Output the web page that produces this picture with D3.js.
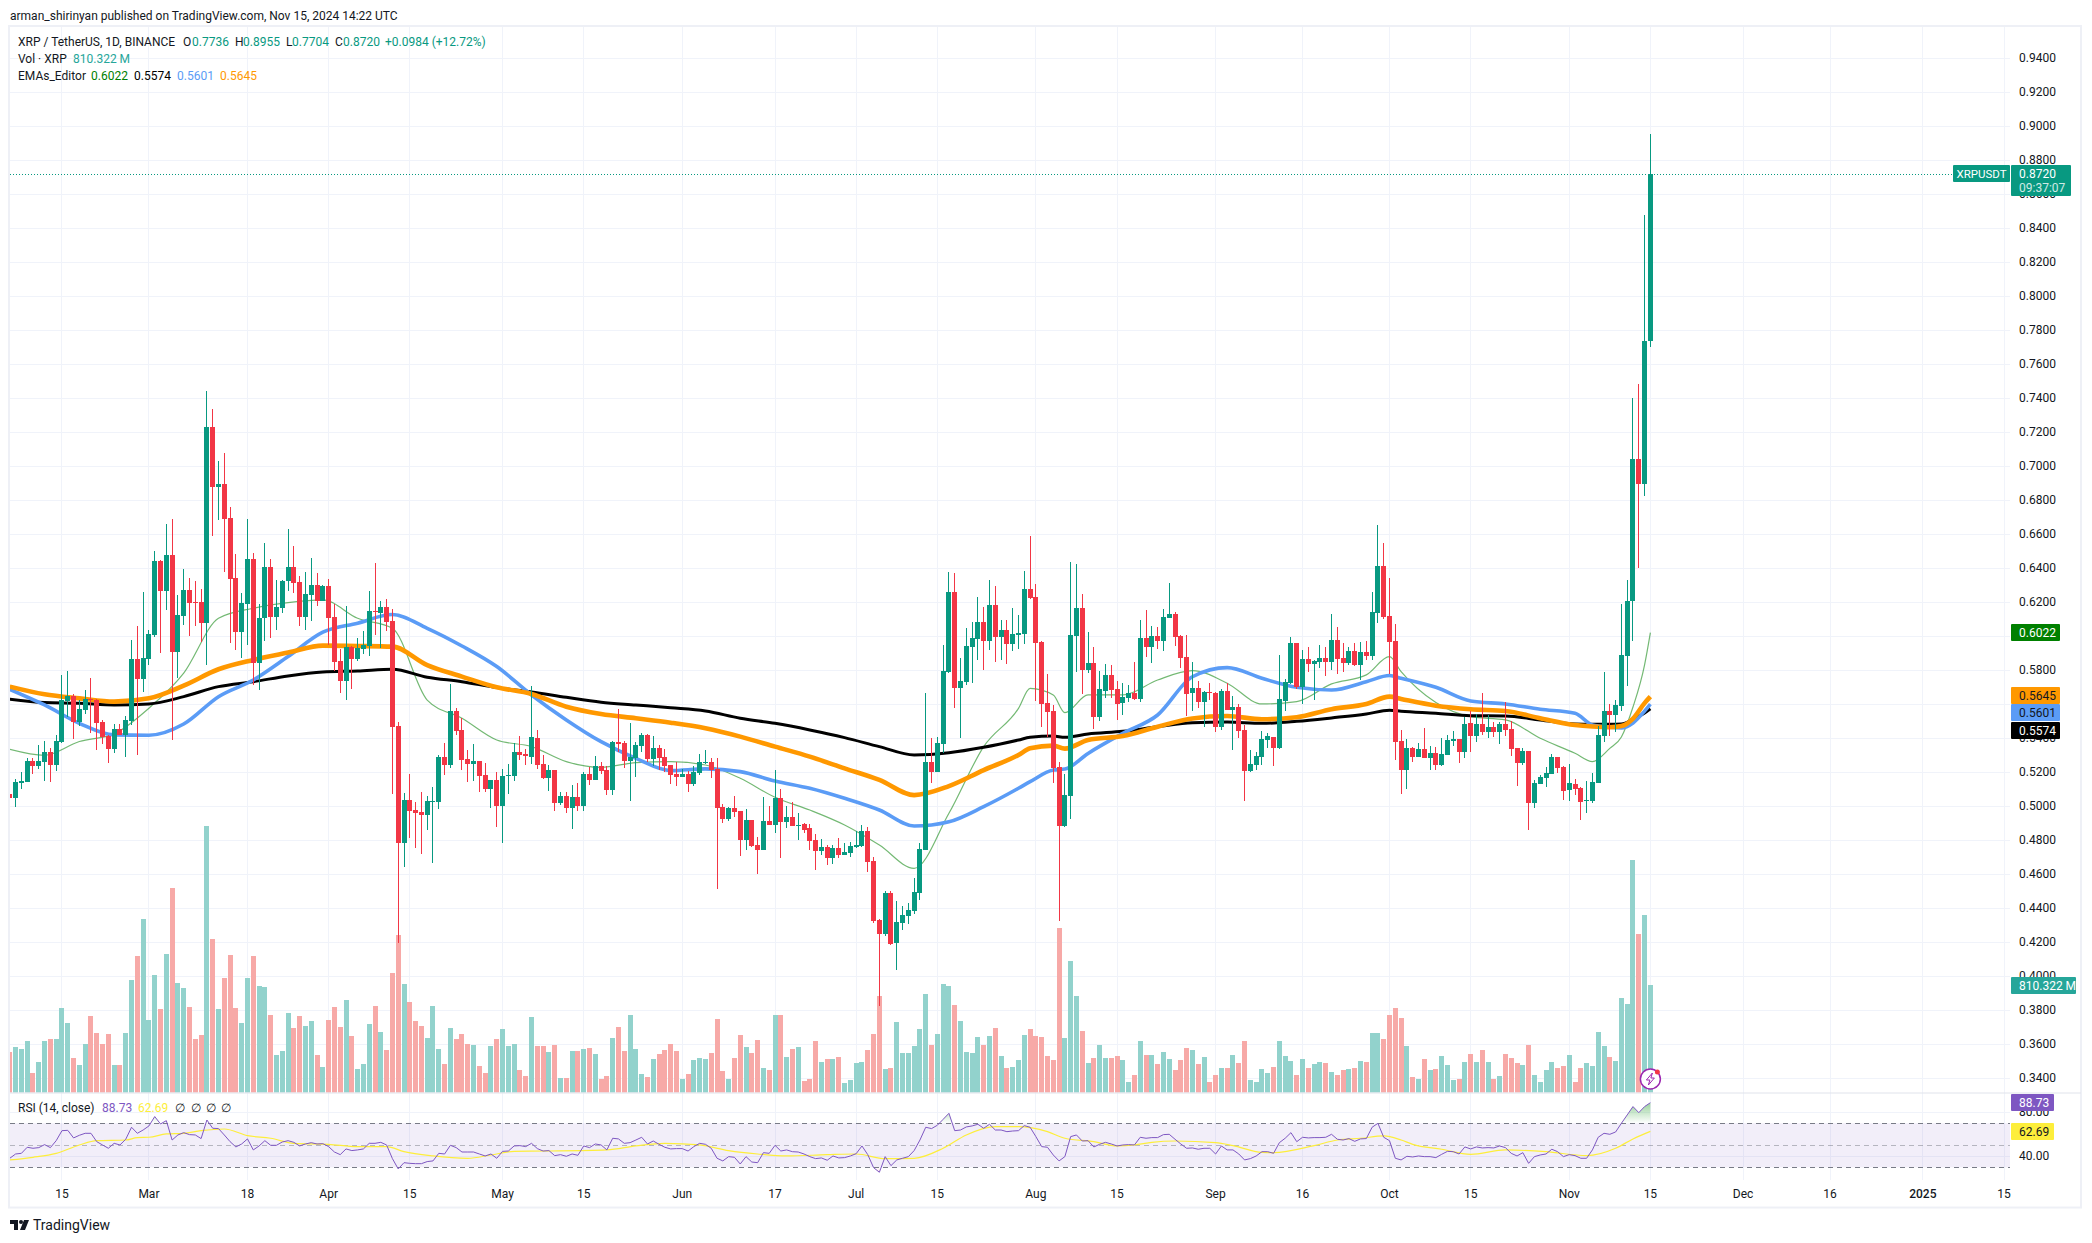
<!DOCTYPE html>
<html>
<head>
<meta charset="utf-8">
<style>
  html, body { margin: 0; padding: 0; background: #fff; }
  svg { display: block; }
  text { font-family: Roboto, sans-serif; font-size: 12px; fill: #131722; }
</style>
</head>
<body>
<div class="chart-container"></div>
<script src="https://cdn.jsdelivr.net/npm/d3@7"></script>
<script>
const UP = '#089981'
const DOWN = '#f23645'
const VOL_UP = '#92d2cc'
const VOL_DOWN = '#f7a9a7'
const GRID = '#f0f3fa'

// daily bars, first one is 2024-02-06
const open = [
  .5071,.5049,.5139,.5143,.5267,.5237,.5261,.5320,.5243,.5379,
  .5620,.5649,.5496,.5567,.5632,.5626,.5496,.5414,.5337,.5455,
  .5420,.5502,.5867,.5749,.5867,.6008,.6443,.6267,.6479,.5908,
  .6120,.6273,.6202,.6202,.6079,.7232,.6879,.6896,.6696,.6343,
  .6026,.6190,.6455,.5843,.6108,.6408,.6114,.6167,.6326,.6408,
  .6320,.6114,.6243,.6302,.6208,.6296,.6114,.5855,.5737,.5937,
  .5867,.5926,.5943,.6149,.6137,.6173,.6090,.5473,.4784,.5037,
  .4978,.4967,.4949,.5025,.5025,.5290,.5243,.5561,.5449,.5278,
  .5249,.5267,.5184,.5102,.5155,.5002,.5178,.5178,.5320,.5308,
  .5290,.5402,.5249,.5167,.5214,.5020,.5061,.4990,.5055,.5002,
  .5190,.5155,.5237,.5214,.5096,.5378,.5373,.5267,.5284,.5355,
  .5420,.5278,.5343,.5290,.5243,.5190,.5173,.5190,.5131,.5196,
  .5255,.5261,.5220,.4996,.4925,.4990,.4973,.4802,.4920,.4773,
  .4743,.4914,.4890,.5049,.4908,.4937,.4884,.4896,.4873,.4802,
  .4737,.4760,.4696,.4755,.4713,.4725,.4760,.4766,.4855,.4678,
  .4331,.4249,.4490,.4196,.4313,.4355,.4384,.4490,.4743,.5260,
  .5202,.5366,.5790,.6260,.5696,.5731,.5937,.5984,.6084,.5972,
  .6184,.5996,.6037,.5955,.6008,.6013,.6278,.6231,.5966,.5608,
  .5560,.5231,.4884,.5060,.6002,.6166,.5802,.5843,.5525,.5678,
  .5772,.5690,.5608,.5637,.5666,.5631,.5990,.5937,.6002,.5972,
  .6108,.6131,.6002,.5878,.5666,.5696,.5614,.5673,.5667,.5467,
  .5678,.5567,.5584,.5449,.5208,.5243,.5290,.5390,.5408,.5343,
  .5620,.5726,.5961,.5702,.5867,.5837,.5849,.5873,.5849,.5978,
  .5873,.5843,.5914,.5831,.5908,.5884,.6137,.6414,.6120,.5973,
  .5384,.5214,.5343,.5290,.5337,.5284,.5314,.5243,.5302,.5384,
  .5396,.5320,.5490,.5414,.5484,.5437,.5467,.5437,.5484,.5455,
  .5343,.5255,.5326,.5020,.5131,.5167,.5190,.5290,.5231,.5096,
  .5131,.5108,.5031,.5031,.5137,.5414,.5561,.5537,.5590,.5885,
  .6207,.7044,.6895,.7736
]
const high = [
  .5075,.5161,.5202,.5283,.5283,.5361,.5384,.5343,.5420,.5773,
  .5796,.5661,.5626,.5684,.5755,.5632,.5508,.5420,.5484,.5484,
  .5532,.5979,.6061,.6261,.6037,.6502,.6449,.6661,.6690,.6243,
  .6396,.6343,.6326,.6279,.7443,.7337,.7032,.7079,.6761,.6484,
  .6255,.6690,.6490,.6190,.6549,.6455,.6332,.6332,.6632,.6532,
  .6355,.6379,.6461,.6373,.6302,.6337,.6190,.5926,.6179,.5943,
  .5990,.6032,.6267,.6432,.6208,.6220,.6161,.5496,.5078,.5190,
  .5025,.5084,.5061,.5114,.5302,.5373,.5720,.5578,.5520,.5331,
  .5367,.5267,.5255,.5155,.5202,.5220,.5249,.5373,.5414,.5337,
  .5708,.5449,.5302,.5243,.5214,.5084,.5084,.5125,.5137,.5202,
  .5231,.5296,.5261,.5237,.5384,.5573,.5384,.5490,.5378,.5431,
  .5425,.5414,.5361,.5337,.5243,.5261,.5220,.5208,.5237,.5308,
  .5331,.5284,.5284,.5014,.4996,.5061,.4973,.4984,.4920,.4820,
  .5055,.5002,.5214,.5102,.5002,.5025,.4961,.4902,.4896,.4837,
  .4808,.4772,.4772,.4813,.4784,.4790,.4855,.4890,.4878,.4702,
  .4337,.4502,.4502,.4443,.4413,.4431,.4578,.4784,.5666,.5402,
  .5408,.5949,.6378,.6372,.5872,.6049,.6084,.6231,.6172,.6331,
  .6296,.6096,.6096,.6166,.6125,.6384,.6590,.6308,.5972,.5778,
  .5596,.5260,.5190,.6437,.6425,.6249,.6025,.5937,.5796,.5837,
  .5831,.5737,.5725,.5713,.5849,.6096,.6155,.6060,.6055,.6160,
  .6313,.6143,.6008,.6008,.5849,.5737,.5678,.5726,.5673,.5690,
  .5726,.5649,.5602,.5478,.5331,.5320,.5443,.5431,.5408,.5890,
  .5749,.5996,.5961,.5920,.5937,.5861,.5949,.5937,.6131,.6055,
  .5961,.5937,.5961,.5967,.5973,.6261,.6655,.6549,.6343,.6073,
  .5449,.5396,.5349,.5373,.5461,.5355,.5349,.5402,.5420,.5443,
  .5396,.5526,.5561,.5543,.5667,.5537,.5496,.5496,.5614,.5502,
  .5343,.5343,.5326,.5155,.5184,.5231,.5308,.5290,.5237,.5249,
  .5161,.5114,.5149,.5196,.5473,.5790,.5602,.5626,.6189,.6330,
  .7401,.7483,.8478,.8955
]
const low = [
  .5040,.4998,.5102,.5143,.5190,.5220,.5149,.5143,.5208,.5373,
  .5526,.5396,.5473,.5543,.5432,.5332,.5367,.5255,.5314,.5420,
  .5290,.5479,.5302,.5673,.5832,.5996,.5902,.6155,.5390,.5755,
  .6067,.6002,.6061,.5967,.5832,.6590,.6684,.6379,.5961,.5920,
  .5873,.5949,.5714,.5684,.5973,.5990,.6037,.6137,.6267,.6255,
  .6061,.6037,.6090,.6179,.6208,.5949,.5796,.5667,.5626,.5690,
  .5855,.5896,.5884,.6008,.5932,.6032,.5073,.4194,.4643,.4814,
  .4755,.4720,.4861,.4667,.4984,.5184,.5225,.5420,.5214,.5143,
  .5149,.5084,.5084,.4990,.4878,.4784,.5073,.5149,.5273,.5243,
  .5249,.5220,.5161,.5090,.4973,.5008,.4961,.4867,.4973,.4973,
  .5125,.5155,.5190,.5067,.5067,.5320,.5225,.5031,.5173,.5320,
  .5261,.5237,.5214,.5202,.5131,.5120,.5173,.5084,.5120,.5184,
  .5249,.5167,.4514,.4902,.4914,.4937,.4708,.4743,.4761,.4602,
  .4743,.4890,.4843,.4696,.4873,.4884,.4802,.4843,.4743,.4625,
  .4713,.4655,.4660,.4696,.4713,.4702,.4755,.4760,.4613,.4313,
  .3825,.4237,.4184,.4037,.4272,.4308,.4366,.4449,.4743,.5137,
  .5202,.5313,.5784,.5578,.5402,.5713,.5725,.5860,.5802,.5919,
  .5849,.5860,.5837,.5913,.5925,.5955,.6219,.5619,.5466,.5408,
  .5137,.4325,.4878,.4925,.5790,.5660,.5784,.5455,.5502,.5637,
  .5637,.5508,.5537,.5613,.5625,.5613,.5878,.5843,.5925,.5913,
  .6108,.5943,.5813,.5531,.5560,.5578,.5467,.5626,.5437,.5449,
  .5567,.5331,.5402,.5031,.5202,.5214,.5243,.5343,.5237,.5337,
  .5561,.5720,.5690,.5602,.5790,.5626,.5814,.5767,.5802,.5778,
  .5790,.5831,.5826,.5743,.5861,.5861,.6078,.6102,.5778,.5273,
  .5073,.5102,.5261,.5290,.5284,.5214,.5214,.5237,.5302,.5355,
  .5255,.5284,.5320,.5378,.5420,.5402,.5408,.5367,.5414,.5296,
  .5120,.5243,.4861,.4990,.5131,.5114,.5190,.5196,.5037,.5031,
  .5067,.4920,.4961,.5020,.5137,.5378,.5414,.5437,.5560,.5707,
  .5973,.6400,.6825,.7704
]
const close = [
  .5049,.5143,.5149,.5267,.5237,.5267,.5320,.5243,.5384,.5626,
  .5649,.5496,.5573,.5632,.5626,.5490,.5408,.5337,.5455,.5420,
  .5508,.5867,.5749,.5873,.6014,.6443,.6267,.6479,.5908,.6126,
  .6273,.6196,.6196,.6079,.7232,.6879,.6896,.6690,.6337,.6026,
  .6196,.6455,.5843,.6108,.6408,.6114,.6173,.6326,.6408,.6314,
  .6114,.6249,.6302,.6208,.6296,.6108,.5849,.5737,.5937,.5867,
  .5932,.5949,.6149,.6143,.6173,.6084,.5467,.4786,.5037,.4973,
  .4961,.4949,.5031,.5031,.5290,.5243,.5561,.5443,.5273,.5249,
  .5267,.5178,.5102,.5155,.5002,.5178,.5184,.5320,.5302,.5296,
  .5408,.5243,.5167,.5214,.5020,.5061,.4990,.5055,.5002,.5190,
  .5155,.5237,.5208,.5096,.5378,.5367,.5267,.5290,.5361,.5420,
  .5278,.5343,.5284,.5237,.5184,.5173,.5190,.5131,.5202,.5261,
  .5261,.5214,.4990,.4925,.4990,.4967,.4802,.4920,.4767,.4743,
  .4914,.4890,.5049,.4908,.4937,.4884,.4890,.4861,.4796,.4737,
  .4760,.4696,.4755,.4713,.4731,.4766,.4772,.4855,.4672,.4325,
  .4249,.4490,.4190,.4319,.4360,.4390,.4496,.4749,.5260,.5202,
  .5372,.5796,.6260,.5696,.5737,.5943,.5990,.6084,.5972,.6184,
  .5996,.6037,.5955,.6013,.6019,.6278,.6225,.5960,.5602,.5555,
  .5225,.4884,.5066,.6008,.6166,.5802,.5843,.5525,.5690,.5772,
  .5684,.5602,.5643,.5666,.5631,.5990,.5937,.6002,.5972,.6113,
  .6131,.5996,.5872,.5660,.5696,.5613,.5673,.5667,.5467,.5678,
  .5567,.5584,.5443,.5208,.5249,.5296,.5396,.5414,.5343,.5631,
  .5731,.5961,.5702,.5867,.5837,.5855,.5873,.5849,.5978,.5867,
  .5843,.5914,.5831,.5908,.5884,.6143,.6414,.6114,.5967,.5378,
  .5214,.5343,.5290,.5337,.5284,.5314,.5243,.5308,.5390,.5396,
  .5320,.5484,.5414,.5484,.5437,.5467,.5437,.5484,.5449,.5337,
  .5255,.5326,.5020,.5137,.5173,.5196,.5290,.5226,.5090,.5137,
  .5102,.5026,.5037,.5143,.5420,.5561,.5537,.5596,.5891,.6207,
  .7044,.6895,.7738,.8720
]
// millions of XRP
const volume = [
  304,342,327,387,146,229,387,402,402,636,
  523,259,206,364,575,447,364,440,206,206,
  447,847,1028,1307,545,885,628,1043,1540,824,
  787,643,402,432,2008,1156,628,862,1035,636,
  523,862,1028,802,794,583,281,312,598,485,
  575,500,538,281,191,545,643,493,696,425,
  176,214,515,651,455,319,900,1186,817,681,
  538,500,410,651,327,214,485,402,440,364,
  357,199,146,349,402,477,349,364,168,123,
  568,349,349,304,357,108,108,312,312,327,
  334,289,101,123,410,493,312,583,327,138,
  116,251,289,319,364,312,101,138,244,259,
  251,297,553,161,101,259,432,342,297,395,
  183,168,583,583,266,327,342,85,101,387,
  229,251,251,266,70,93,221,229,319,440,
  726,176,183,530,297,297,349,477,741,357,
  440,817,802,658,538,304,297,417,357,425,
  485,274,183,191,244,432,477,425,417,274,
  244,1239,410,990,726,462,221,259,357,259,
  259,274,244,78,131,387,281,281,214,304,
  251,168,244,334,319,214,266,78,131,183,
  183,281,221,387,93,78,176,146,191,387,
  274,236,131,251,183,214,229,221,153,131,
  168,176,183,236,229,447,447,402,583,636,
  560,349,116,101,251,168,176,274,206,93,
  101,229,289,229,319,229,101,123,289,259,
  221,206,357,131,78,168,229,183,199,281,
  78,183,221,199,455,349,266,236,711,666,
  1752,1194,1337,810.322
]

// EMA readings, the day index says which bar each reading sits on
const emaDays = [
  0,6,12,18,24,30,36,42,48,54,60,66,
  72,78,84,90,96,102,108,114,120,126,132,138,
  144,150,156,162,168,174,176,180,182,186,192,198,204,
  210,216,222,228,234,238,240,246,252,258,264,270,273,276,
  278,280,282,283
]
const emaGreen = [
  .5335,.5300,.5381,.5426,.5577,.5783,.6106,.6165,.6198,.6214,.6106,.6047,
  .5625,.5518,.5390,.5351,.5263,.5229,.5257,.5263,.5243,.5165,.5053,.4978,
  .4890,.4772,.4635,.4959,.5351,.5576,.5694,.5655,.5551,.5655,.5655,.5743,.5798,
  .5724,.5602,.5616,.5720,.5773,.5880,.5792,.5610,.5527,.5508,.5400,.5312,.5263,.5341,
  .5408,.5584,.5832,.6022
]
const emaBlack = [
  .5630,.5610,.5606,.5596,.5602,.5645,.5704,.5733,.5767,.5790,.5796,.5806,
  .5759,.5733,.5698,.5673,.5641,.5612,.5596,.5580,.5561,.5518,.5488,.5449,
  .5404,.5351,.5302,.5315,.5347,.5390,.5406,.5413,.5406,.5425,.5441,.5468,.5492,
  .5496,.5488,.5500,.5520,.5543,.5565,.5559,.5547,.5533,.5531,.5508,.5484,.5482,.5482,
  .5484,.5511,.5549,.5574
]
const emaBlue = [
  .5688,.5596,.5488,.5420,.5418,.5484,.5645,.5743,.5881,.6024,.6077,.6128,
  .6047,.5943,.5822,.5655,.5508,.5380,.5282,.5210,.5220,.5204,.5149,.5106,
  .5047,.4978,.4884,.4909,.4998,.5106,.5145,.5213,.5219,.5311,.5429,.5537,.5762,
  .5816,.5753,.5700,.5684,.5733,.5769,.5753,.5700,.5620,.5602,.5571,.5547,.5478,.5465,
  .5461,.5490,.5560,.5601
]
const emaOrange = [
  .5704,.5659,.5635,.5616,.5635,.5710,.5806,.5861,.5904,.5945,.5943,.5939,
  .5831,.5763,.5700,.5661,.5586,.5543,.5518,.5492,.5459,.5410,.5351,.5292,
  .5223,.5155,.5066,.5119,.5213,.5302,.5341,.5357,.5339,.5390,.5413,.5468,.5517,
  .5531,.5512,.5524,.5571,.5602,.5645,.5631,.5592,.5571,.5561,.5518,.5478,.5469,.5465,
  .5472,.5516,.5607,.5645
]

const rsi = [
  38.2,42.1,42.7,48.2,47.3,47.9,50.6,47.9,54.2,63.3,
  63.6,56.7,59.1,60.9,60.9,53.3,50.3,47.3,51.8,50.3,
  55.5,66.4,60.9,63.9,67.6,76.1,69.4,72.4,54.8,59.4,
  61.5,59.7,59.4,56.1,73.0,65.5,65.2,59.4,53.3,48.5,
  51.2,55.8,45.8,49.4,54.2,50.0,50.0,53.0,54.2,52.7,
  49.4,51.2,52.4,51.2,51.5,48.8,43.9,41.5,46.7,45.2,
  45.8,46.7,51.8,51.8,52.7,50.3,37.9,28.5,34.2,33.6,
  33.3,33.3,35.2,35.8,42.7,42.1,50.0,47.9,43.9,43.9,
  43.9,42.1,40.3,42.1,38.2,44.5,44.8,49.4,49.7,48.8,
  51.8,47.0,44.8,45.2,40.6,41.5,40.0,42.1,40.9,49.4,
  47.9,51.2,50.3,45.8,56.4,55.8,51.8,52.4,54.8,57.3,
  51.2,53.9,50.9,48.2,46.7,47.0,47.0,44.8,48.8,51.8,
  50.9,47.3,38.2,35.8,39.7,39.1,33.0,39.7,34.8,34.2,
  43.3,42.7,50.0,44.8,45.8,44.2,43.9,42.1,39.7,37.9,
  38.5,36.4,40.3,38.5,38.8,40.3,42.4,49.4,41.5,29.7,
  25.5,39.7,31.5,36.7,38.2,39.7,45.2,54.8,66.4,65.2,
  68.2,73.6,79.1,63.3,63.9,66.7,67.6,69.1,65.5,69.1,
  63.9,63.9,62.4,63.0,63.3,67.9,66.4,57.9,48.8,48.2,
  41.2,35.8,39.7,57.9,59.4,53.9,54.2,48.5,50.9,52.7,
  51.2,49.4,50.3,50.6,50.3,57.3,56.4,57.0,57.0,59.7,
  60.0,55.5,51.2,47.3,47.6,46.4,47.3,47.3,42.1,49.4,
  45.8,45.8,42.1,36.7,37.9,40.3,44.2,44.2,42.7,52.4,
  56.4,61.5,53.3,57.3,56.7,57.0,57.0,57.3,60.0,55.5,
  54.8,56.1,53.6,55.8,56.1,66.4,70.0,57.3,54.2,38.2,
  36.7,40.0,39.4,40.3,39.7,39.7,38.8,41.8,44.5,44.2,
  42.1,48.5,46.7,48.5,47.6,47.9,47.6,49.4,47.9,42.7,
  40.3,43.3,33.6,39.7,41.2,42.1,46.4,44.2,39.7,41.5,
  40.6,38.2,38.2,45.8,57.3,60.9,60.0,62.1,70.0,77.6,
  85.2,79.7,85.2,88.73
]
const rsiMaDays = [
  0,4,8,12,15,20,22,24,27,30,33,37,41,45,49,55,60,65,68,73,79,83,87,93,103,108,113,119,
  124,129,134,141,146,151,156,161,165,170,174,179,182,187,191,194,197,201,208,211,216,218,225,229,233,237,240,
  242,247,252,258,265,272,277,280,283
]
const rsiMa = [
  36.7,39.1,42.7,50.3,54.2,54.8,57.0,57.3,60.3,60.9,63.3,64.8,58.8,56.4,51.8,50.9,48.8,48.8,44.2,40.3,38.2,41.2,44.5,44.8,45.8,49.4,51.8,50.3,
  45.2,42.1,40.3,41.5,42.1,37.9,38.2,47.3,59.4,67.0,67.0,62.4,56.4,53.3,49.4,50.3,52.7,53.9,52.4,49.7,43.6,43.3,49.7,54.8,56.4,58.5,54.8,
  50.9,46.4,41.8,45.8,44.2,40.6,47.3,55.8,62.69
]

const priceTicks = [.34,.36,.38,.40,.42,.44,.46,.48,.50,.52,.54,.56,.58,.60,.62,.64,.66,.68,.70,.72,.74,.76,.78,.80,.82,.84,.86,.88,.90,.92,.94]
const timeTicks = [
  ['2024-02-15','15'],['2024-03-01','Mar'],['2024-03-18','18'],['2024-04-01','Apr'],['2024-04-15','15'],
  ['2024-05-01','May'],['2024-05-15','15'],['2024-06-01','Jun'],['2024-06-17','17'],['2024-07-01','Jul'],
  ['2024-07-15','15'],['2024-08-01','Aug'],['2024-08-15','15'],['2024-09-01','Sep'],['2024-09-16','16'],
  ['2024-10-01','Oct'],['2024-10-15','15'],['2024-11-01','Nov'],['2024-11-15','15'],['2024-12-01','Dec'],
  ['2024-12-16','16'],['2025-01-01','2025'],['2025-01-15','15']
]

const firstDay = new Date(Date.UTC(2024, 1, 6))
const day = i => d3.utcDay.offset(firstDay, i)
const last = arr => arr[arr.length - 1]

const plot = {left: 10, right: 2010, top: 27, volBottom: 1092.5, rsiTop: 1094, rsiBottom: 1180}

const scaleX = d3.scaleUtc()
  .domain([firstDay, new Date(Date.UTC(2025, 0, 15))])
  .range([9.8, 2004])
const scaleY = d3.scaleLinear().domain([.34, .94]).range([1078.3, 58.3])
const scaleV = d3.scaleLinear().domain([0, 2008]).range([plot.volBottom, 826])
const scaleR = d3.scaleLinear().domain([30, 70]).range([1167.3, 1123.3])

const svg = d3.select('.chart-container').append('svg')
  .attr('width', 2092)
  .attr('height', 1243)
  .attr('viewBox', '0 0 2092 1243')

const defs = svg.append('defs')
defs.append('clipPath').attr('id', 'clip-plot').append('rect')
  .attr('x', plot.left).attr('y', plot.top)
  .attr('width', plot.right - plot.left).attr('height', plot.volBottom - plot.top)
defs.append('clipPath').attr('id', 'clip-over').append('rect')
  .attr('x', plot.left).attr('y', plot.rsiTop)
  .attr('width', plot.right - plot.left).attr('height', scaleR(70) - plot.rsiTop)
defs.append('clipPath').attr('id', 'clip-under').append('rect')
  .attr('x', plot.left).attr('y', scaleR(30))
  .attr('width', plot.right - plot.left).attr('height', plot.rsiBottom - scaleR(30))
const over = defs.append('linearGradient').attr('id', 'rsi-over')
  .attr('gradientUnits', 'userSpaceOnUse')
  .attr('x1', 0).attr('x2', 0).attr('y1', scaleR(90)).attr('y2', scaleR(70))
over.append('stop').attr('offset', 0).attr('stop-color', '#4caf50').attr('stop-opacity', .6)
over.append('stop').attr('offset', 1).attr('stop-color', '#4caf50').attr('stop-opacity', 0)
const under = defs.append('linearGradient').attr('id', 'rsi-under')
  .attr('gradientUnits', 'userSpaceOnUse')
  .attr('x1', 0).attr('x2', 0).attr('y1', scaleR(30)).attr('y2', scaleR(10))
under.append('stop').attr('offset', 0).attr('stop-color', '#f23645').attr('stop-opacity', 0)
under.append('stop').attr('offset', 1).attr('stop-color', '#f23645').attr('stop-opacity', .6)

// grid
const grid = svg.append('g').attr('shape-rendering', 'crispEdges')
grid.selectAll('line.h').data(priceTicks).enter().append('line')
  .attr('x1', plot.left).attr('x2', plot.right)
  .attr('y1', d => Math.round(scaleY(d))).attr('y2', d => Math.round(scaleY(d)))
  .attr('stroke', GRID)
grid.selectAll('line.v').data(timeTicks).enter().append('line')
  .attr('x1', d => Math.floor(scaleX(new Date(d[0])))).attr('x2', d => Math.floor(scaleX(new Date(d[0]))))
  .attr('y1', plot.top).attr('y2', plot.rsiBottom)
  .attr('stroke', GRID)
grid.selectAll('line.r').data([40, 80]).enter().append('line')
  .attr('x1', plot.left).attr('x2', plot.right)
  .attr('y1', d => Math.round(scaleR(d))).attr('y2', d => Math.round(scaleR(d)))
  .attr('stroke', GRID)

// volume
const bars = open.map((d, i) => ({i, open: d, high: high[i], low: low[i], close: close[i], volume: volume[i]}))
const main = svg.append('g').attr('clip-path', 'url(#clip-plot)')

main.append('g').attr('shape-rendering', 'crispEdges')
  .selectAll('rect').data(bars).enter().append('rect')
  .attr('x', d => Math.floor(scaleX(day(d.i))) - 2)
  .attr('width', 5)
  .attr('y', d => scaleV(d.volume))
  .attr('height', d => scaleV(0) - scaleV(d.volume))
  .attr('fill', d => d.close >= d.open ? VOL_UP : VOL_DOWN)

// EMAs
const emaLine = d3.line()
  .x(d => scaleX(day(d[0])))
  .y(d => scaleY(d[1]))
  .curve(d3.curveMonotoneX)

function drawEma (values, color, width, opacity) {
  main.append('path')
    .datum(values.map((v, k) => [emaDays[k], v]))
    .attr('d', emaLine)
    .attr('fill', 'none')
    .attr('stroke', color)
    .attr('stroke-width', width)
    .attr('stroke-opacity', opacity)
    .attr('stroke-linejoin', 'round')
}
drawEma(emaGreen, '#008000', 1.2, .55)
drawEma(emaBlack, '#000000', 3, 1)
drawEma(emaBlue, '#5b9cf6', 3.6, 1)
drawEma(emaOrange, '#ff9800', 4.6, 1)

// candles
const candles = main.append('g').attr('shape-rendering', 'crispEdges')
  .selectAll('g').data(bars).enter().append('g')
  .attr('fill', d => d.close >= d.open ? UP : DOWN)
candles.append('rect')
  .attr('x', d => Math.floor(scaleX(day(d.i))))
  .attr('width', 1)
  .attr('y', d => scaleY(d.high))
  .attr('height', d => scaleY(d.low) - scaleY(d.high))
candles.append('rect')
  .attr('x', d => Math.floor(scaleX(day(d.i))) - 2)
  .attr('width', 5)
  .attr('y', d => scaleY(Math.max(d.open, d.close)))
  .attr('height', d => Math.max(1, Math.abs(scaleY(d.open) - scaleY(d.close))))

// last price line
svg.append('line')
  .attr('x1', plot.left).attr('x2', 1953)
  .attr('y1', Math.round(scaleY(last(close))) + .5).attr('y2', Math.round(scaleY(last(close))) + .5)
  .attr('stroke', UP)
  .attr('stroke-dasharray', '1 2')

// rsi pane
const rsiPane = svg.append('g')
rsiPane.append('rect')
  .attr('x', plot.left).attr('width', plot.right - plot.left)
  .attr('y', scaleR(70)).attr('height', scaleR(30) - scaleR(70))
  .attr('fill', '#7e57c2').attr('fill-opacity', .1)
rsiPane.selectAll('line').data([70, 50, 30]).enter().append('line')
  .attr('x1', plot.left).attr('x2', plot.right)
  .attr('y1', d => Math.round(scaleR(d)) + .5).attr('y2', d => Math.round(scaleR(d)) + .5)
  .attr('stroke', '#787b86')
  .attr('stroke-opacity', d => d === 50 ? .5 : 1)
  .attr('stroke-dasharray', '5 4')

const rsiPoints = rsi.map((v, i) => [i, v])
const rsiX = d => scaleX(day(d[0]))
rsiPane.append('path').datum(rsiPoints)
  .attr('d', d3.area().x(rsiX).y0(scaleR(70)).y1(d => scaleR(d[1])))
  .attr('clip-path', 'url(#clip-over)')
  .attr('fill', 'url(#rsi-over)')
rsiPane.append('path').datum(rsiPoints)
  .attr('d', d3.area().x(rsiX).y0(scaleR(30)).y1(d => scaleR(d[1])))
  .attr('clip-path', 'url(#clip-under)')
  .attr('fill', 'url(#rsi-under)')
rsiPane.append('path').datum(rsiMa.map((v, k) => [rsiMaDays[k], v]))
  .attr('d', d3.line().x(rsiX).y(d => scaleR(d[1])).curve(d3.curveMonotoneX))
  .attr('fill', 'none').attr('stroke', '#fdee3b').attr('stroke-width', 1.2)
rsiPane.append('path').datum(rsiPoints)
  .attr('d', d3.line().x(rsiX).y(d => scaleR(d[1])))
  .attr('fill', 'none').attr('stroke', '#7e57c2').attr('stroke-width', 1)

// frame
const frame = svg.append('g').attr('fill', 'none').attr('stroke', '#eef0f6').attr('stroke-width', 2)
frame.append('rect').attr('x', 9).attr('y', 26).attr('width', 2072).attr('height', 1181.5)
svg.append('line').attr('x1', 10).attr('x2', 2081).attr('y1', 1093).attr('y2', 1093)
  .attr('stroke', '#e0e3eb').attr('stroke-width', 1)

// axes
const axisY = svg.append('g').attr('class', 'axis axis--y')
axisY.selectAll('text').data(priceTicks).enter().append('text')
  .attr('x', 2019)
  .attr('y', d => scaleY(d) + 4)
  .text(d => d3.format('.4f')(d))
const axisR = svg.append('g').attr('class', 'axis axis--r')
axisR.selectAll('text').data([80, 40]).enter().append('text')
  .attr('x', 2019)
  .attr('y', d => scaleR(d) + 4)
  .text(d => d3.format('.2f')(d))
const axisX = svg.append('g').attr('class', 'axis axis--x')
axisX.selectAll('text').data(timeTicks).enter().append('text')
  .attr('x', d => scaleX(new Date(d[0])))
  .attr('y', 1198)
  .attr('text-anchor', 'middle')
  .attr('font-weight', d => d[1] === '2025' ? 500 : 400)
  .text(d => d[1])

// value tags on the right
function tag (x, y, w, h, fill, color, label) {
  svg.append('rect').attr('x', x).attr('y', y).attr('width', w).attr('height', h).attr('rx', 1).attr('fill', fill)
  svg.append('text').attr('x', x + 8).attr('y', y + h / 2 + 4).style('fill', color).text(label)
}
svg.append('rect').attr('x', 1953).attr('y', 165).attr('width', 57).attr('height', 17).attr('rx', 1).attr('fill', UP)
svg.append('text').attr('x', 1981.5).attr('y', 177.5).attr('text-anchor', 'middle').style('fill', '#fff').style('font-size', '11.5px').text('XRPUSDT')
svg.append('rect').attr('x', 2011).attr('y', 165).attr('width', 60).attr('height', 31).attr('rx', 1).attr('fill', UP)
svg.append('text').attr('x', 2019).attr('y', 178).style('fill', '#fff').text('0.8720')
svg.append('text').attr('x', 2019).attr('y', 192).style('fill', '#fff').style('opacity', .8).text('09:37:07')
tag(2011, 624, 49, 17, '#008000', '#fff', d3.format('.4f')(last(emaGreen)))
tag(2011, 687, 49, 17, '#ff9800', '#131722', d3.format('.4f')(last(emaOrange)))
tag(2011, 704, 49, 17, '#5b9cf6', '#131722', d3.format('.4f')(last(emaBlue)))
tag(2011, 722, 49, 17, '#000000', '#fff', d3.format('.4f')(last(emaBlack)))
tag(2011, 977, 65, 17, '#26a69a', '#fff', '810.322 M')
tag(2011, 1094, 43, 17, '#7e57c2', '#fff', d3.format('.2f')(last(rsi)))
tag(2011, 1123, 43, 17, '#fdee3b', '#131722', d3.format('.2f')(last(rsiMa)))

// header and legends
function legend (y, parts) {
  parts.forEach(p => {
    svg.append('text').attr('x', p[0]).attr('y', y).style('fill', p[2] || '#131722').text(p[1])
  })
}
const fmtP = d3.format('.4f')
svg.append('text').attr('x', 10).attr('y', 20).text('arman_shirinyan published on TradingView.com, Nov 15, 2024 14:22 UTC')
legend(46, [
  [18, 'XRP / TetherUS, 1D, BINANCE'],
  [183, 'O'], [192, fmtP(last(open)), UP],
  [235, 'H'], [243, fmtP(last(high)), UP],
  [286, 'L'], [292, fmtP(last(low)), UP],
  [335, 'C'], [343, fmtP(last(close)), UP],
  [385, '+0.0984 (+12.72%)', UP]
])
legend(63, [[18, 'Vol · XRP'], [73, '810.322 M', '#26a69a']])
legend(80, [
  [18, 'EMAs_Editor'],
  [91, fmtP(last(emaGreen)), '#008000'],
  [134, fmtP(last(emaBlack)), '#000000'],
  [177, fmtP(last(emaBlue)), '#5b9cf6'],
  [220, fmtP(last(emaOrange)), '#ff9800']
])
legend(1112, [
  [18, 'RSI (14, close)'],
  [102, d3.format('.2f')(last(rsi)), '#7e57c2'],
  [138, d3.format('.2f')(last(rsiMa)), '#fdee3b'],
  [175, '∅'], [191, '∅'], [206, '∅'], [221, '∅']
])

// flash icon on the last bar
const flash = svg.append('g').attr('transform', `translate(${scaleX(day(283))}, 1079)`)
flash.append('circle').attr('r', 10).attr('fill', '#fff').attr('stroke', '#9c27b0').attr('stroke-width', 1.5)
flash.append('path').attr('d', 'M2 -6L-4 1H-0.5L-2 6L4 -1H0.5Z').attr('fill', 'none').attr('stroke', '#9c27b0').attr('stroke-width', 1)
flash.append('circle').attr('cx', 7).attr('cy', -7).attr('r', 2.5).attr('fill', '#f23645')

// footer
const logo = svg.append('g').attr('transform', 'translate(10, 1220)').attr('fill', '#131722')
logo.append('path').attr('d', 'M0 0H8V10H4V4H0Z')
logo.append('circle').attr('cx', 11).attr('cy', 2).attr('r', 2)
logo.append('path').attr('d', 'M14 0H19L15 10H10Z')
svg.append('text').attr('x', 33).attr('y', 1230).style('font-size', '14px').text('TradingView')
</script>
</body>
</html>
